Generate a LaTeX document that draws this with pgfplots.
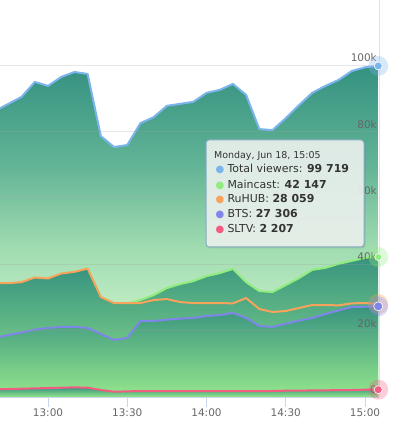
\documentclass[border=0pt]{standalone}
\usepackage{fontspec}
\setmainfont{DejaVu Sans}
\usepackage{pgfplots}
\usepackage{pgfplotstable}
\pgfplotsset{compat=1.18}
\definecolor{cTotal}{RGB}{124,181,236}
\definecolor{cMain}{RGB}{144,237,125}
\definecolor{cRu}{RGB}{247,163,92}
\definecolor{cBts}{RGB}{128,133,233}
\definecolor{cSl}{RGB}{241,92,128}
\definecolor{tA}{RGB}{52,145,128}
\definecolor{tB}{RGB}{98,180,150}
\definecolor{tC}{RGB}{160,220,176}
\definecolor{tD}{RGB}{186,233,192}
\definecolor{tE}{RGB}{215,245,210}
\definecolor{sA}{RGB}{56,148,127}
\definecolor{sB}{RGB}{148,230,140}
\definecolor{tickgray}{RGB}{102,102,102}
\definecolor{axisblue}{RGB}{204,214,235}
\definecolor{gridgray}{RGB}{160,160,160}
\definecolor{tipfill}{RGB}{234,241,237}
\definecolor{tipborder}{RGB}{135,170,195}
\definecolor{tiptext}{RGB}{51,51,51}
\pgfdeclareverticalshading{totalshade}{100bp}{color(0bp)=(tE); color(25bp)=(tE); color(40bp)=(tD); color(47.5bp)=(tC); color(60bp)=(tB); color(75bp)=(tA); color(100bp)=(tA)}
\pgfdeclareverticalshading{seriesshade}{100bp}{color(0bp)=(sB); color(25bp)=(sB); color(75bp)=(sA); color(100bp)=(sA)}

% minutes after 13:00, viewers in thousands
\pgfplotstableread{
m   total  main   ruhub  bts    sltv
-20 86.2   34.1   34.3   17.8   2.4
-15 88.3   34.1   34.3   18.7   2.4
-10 90.4   34.4   34.6   19.4   2.5
-5  94.9   35.8   36.0   20.3   2.6
0   93.7   35.5   35.7   20.8   2.7
5   96.4   37.0   37.2   21.1   2.8
10  97.9   37.5   37.7   21.1   2.9
15  97.3   38.5   38.7   20.8   2.8
20  78.6   29.9   30.1   19.0   2.1
25  75.3   28.1   28.3   17.2   1.6
30  75.9   28.1   28.3   17.8   1.7
35  82.5   29.2   28.3   22.9   1.8
40  84.3   30.7   29.2   22.9   1.8
45  87.7   32.8   29.5   23.3   1.8
50  88.3   34.0   28.6   23.6   1.8
55  88.9   34.9   28.3   23.8   1.8
60  91.6   36.4   28.3   24.4   1.8
65  92.5   37.3   28.3   24.7   1.8
70  94.3   38.6   28.2   25.3   1.8
75  91.0   34.6   29.8   23.8   1.8
80  80.7   31.9   26.5   21.4   1.8
85  80.4   31.6   25.6   21.1   1.8
90  84.0   33.7   25.9   22.1   1.9
95  87.9   35.8   26.8   23.0   1.9
100 91.6   38.3   27.7   23.8   2.0
105 93.7   38.9   27.7   25.0   2.0
110 95.5   40.1   27.6   26.1   2.1
115 98.2   41.0   28.2   27.1   2.1
120 99.3   41.9   28.3   27.2   2.2
125 99.719 42.147 28.059 27.306 2.207
}\data

\begin{document}
\begin{tikzpicture}
\path[use as bounding box] (0,0) rectangle (393bp,430bp);
\begin{axis}[
  axis on top,
  at={(0,33bp)}, anchor=south west,
  scale only axis, width=379bp, height=397bp,
  xmin=-18.17, xmax=125.3, ymin=0, ymax=119.58,
  axis x line*=bottom, axis y line*=right,
  x axis line style={axisblue, line width=0.8bp, -},
  y axis line style={draw=gridgray, draw opacity=0.3, line width=0.8bp, -},
  xtick={0,30,60,90,120},
  xticklabels={13:00,13:30,14:00,14:30,15:00},
  ytick={0,20,40,60,80,100},
  yticklabels={0,20k,40k,60k,80k,100k},
  tick align=outside,
  x tick style={axisblue, line width=0.8bp},
  major tick length=10bp,
  ytick style={draw=none},
  ymajorgrids,
  grid style={gridgray, draw opacity=0.25, line width=0.8bp},
  every tick label/.append style={font=\fontsize{10.5}{12}\selectfont, text=tickgray},
  xticklabel style={anchor=north, inner sep=0pt, yshift=-2bp},
  yticklabel style={anchor=south east, inner sep=0pt, xshift=-12bp, yshift=3bp},
  no markers,
  line join=round,
]
\addplot[draw=none, shade, shading=totalshade] table[x=m,y=total]{\data} \closedcycle;
\addplot[cTotal, line width=2bp] table[x=m,y=total]{\data};
\addplot[draw=none, shade, shading=seriesshade] table[x=m,y=main]{\data} \closedcycle;
\addplot[cMain, line width=2bp] table[x=m,y=main]{\data};
\addplot[draw=none, shade, shading=seriesshade] table[x=m,y=ruhub]{\data} \closedcycle;
\addplot[cRu, line width=2bp] table[x=m,y=ruhub]{\data};
\addplot[draw=none, shade, shading=seriesshade] table[x=m,y=bts]{\data} \closedcycle;
\addplot[cBts, line width=2bp] table[x=m,y=bts]{\data};
\addplot[draw=none, shade, shading=seriesshade] table[x=m,y=sltv]{\data} \closedcycle;
\addplot[cSl, line width=2bp] table[x=m,y=sltv]{\data};
% hover halos and markers at 15:05
\addplot[only marks, draw=none, fill=cTotal, fill opacity=0.3, mark=*, mark size=10bp, mark options={draw=none, draw opacity=0, fill=cTotal, fill opacity=0.3}] coordinates {(125,99.719)};
\addplot[only marks, mark=*, mark size=4bp, mark options={fill=cTotal, draw=white, line width=0.6bp}] coordinates {(125,99.719)};
\addplot[only marks, draw=none, fill=cMain, fill opacity=0.3, mark=*, mark size=10bp, mark options={draw=none, draw opacity=0, fill=cMain, fill opacity=0.3}] coordinates {(125,42.147)};
\addplot[only marks, mark=square*, mark size=3.5bp, mark options={fill=cMain, draw=white, line width=0.6bp}] coordinates {(125,42.147)};
\addplot[only marks, draw=none, fill=cRu, fill opacity=0.3, mark=*, mark size=10bp, mark options={draw=none, draw opacity=0, fill=cRu, fill opacity=0.3}] coordinates {(125,28.059)};
\addplot[only marks, draw=none, fill=cBts, fill opacity=0.3, mark=*, mark size=10bp, mark options={draw=none, draw opacity=0, fill=cBts, fill opacity=0.3}] coordinates {(125,27.306)};
\addplot[only marks, mark=triangle*, mark size=4.5bp, mark options={fill=cBts, draw=white, line width=0.6bp, rotate=180}] coordinates {(125,27.306)};
\addplot[only marks, draw=none, fill=cSl, fill opacity=0.3, mark=*, mark size=10bp, mark options={draw=none, draw opacity=0, fill=cSl, fill opacity=0.3}] coordinates {(125,2.207)};
\addplot[only marks, mark=*, mark size=4bp, mark options={fill=cSl, draw=white, line width=0.6bp}] coordinates {(125,2.207)};
\end{axis}
% tooltip
\fill[black, opacity=0.08, rounded corners=3bp] (207.5bp,181.5bp) rectangle (365.5bp,288.5bp);
\draw[tipborder, fill=tipfill, fill opacity=0.92, line width=1bp, rounded corners=3bp] (206bp,183bp) rectangle (364bp,290bp);
\node[anchor=base west, inner sep=0, text=tiptext, font=\fontsize{9.5}{11}\selectfont] at (214bp,271.7bp) {Monday, Jun 18, 15:05};
\node[anchor=base, inner sep=0, text=cTotal, font=\fontsize{10}{11}\selectfont] at (220bp,257bp) {●};
\node[anchor=base west, inner sep=0, text=tiptext, font=\fontsize{11}{13}\selectfont] at (227.3bp,257bp) {Total viewers: \textbf{99 719}};
\node[anchor=base, inner sep=0, text=cMain, font=\fontsize{10}{11}\selectfont] at (220bp,241.7bp) {●};
\node[anchor=base west, inner sep=0, text=tiptext, font=\fontsize{11}{13}\selectfont] at (227.3bp,241.7bp) {Maincast: \textbf{42 147}};
\node[anchor=base, inner sep=0, text=cRu, font=\fontsize{10}{11}\selectfont] at (220bp,227.3bp) {●};
\node[anchor=base west, inner sep=0, text=tiptext, font=\fontsize{11}{13}\selectfont] at (227.3bp,227.3bp) {RuHUB: \textbf{28 059}};
\node[anchor=base, inner sep=0, text=cBts, font=\fontsize{10}{11}\selectfont] at (220bp,212.3bp) {●};
\node[anchor=base west, inner sep=0, text=tiptext, font=\fontsize{11}{13}\selectfont] at (227.3bp,212.3bp) {BTS: \textbf{27 306}};
\node[anchor=base, inner sep=0, text=cSl, font=\fontsize{10}{11}\selectfont] at (220bp,197.7bp) {●};
\node[anchor=base west, inner sep=0, text=tiptext, font=\fontsize{11}{13}\selectfont] at (227.3bp,197.7bp) {SLTV: \textbf{2 207}};
\end{tikzpicture}
\end{document}
